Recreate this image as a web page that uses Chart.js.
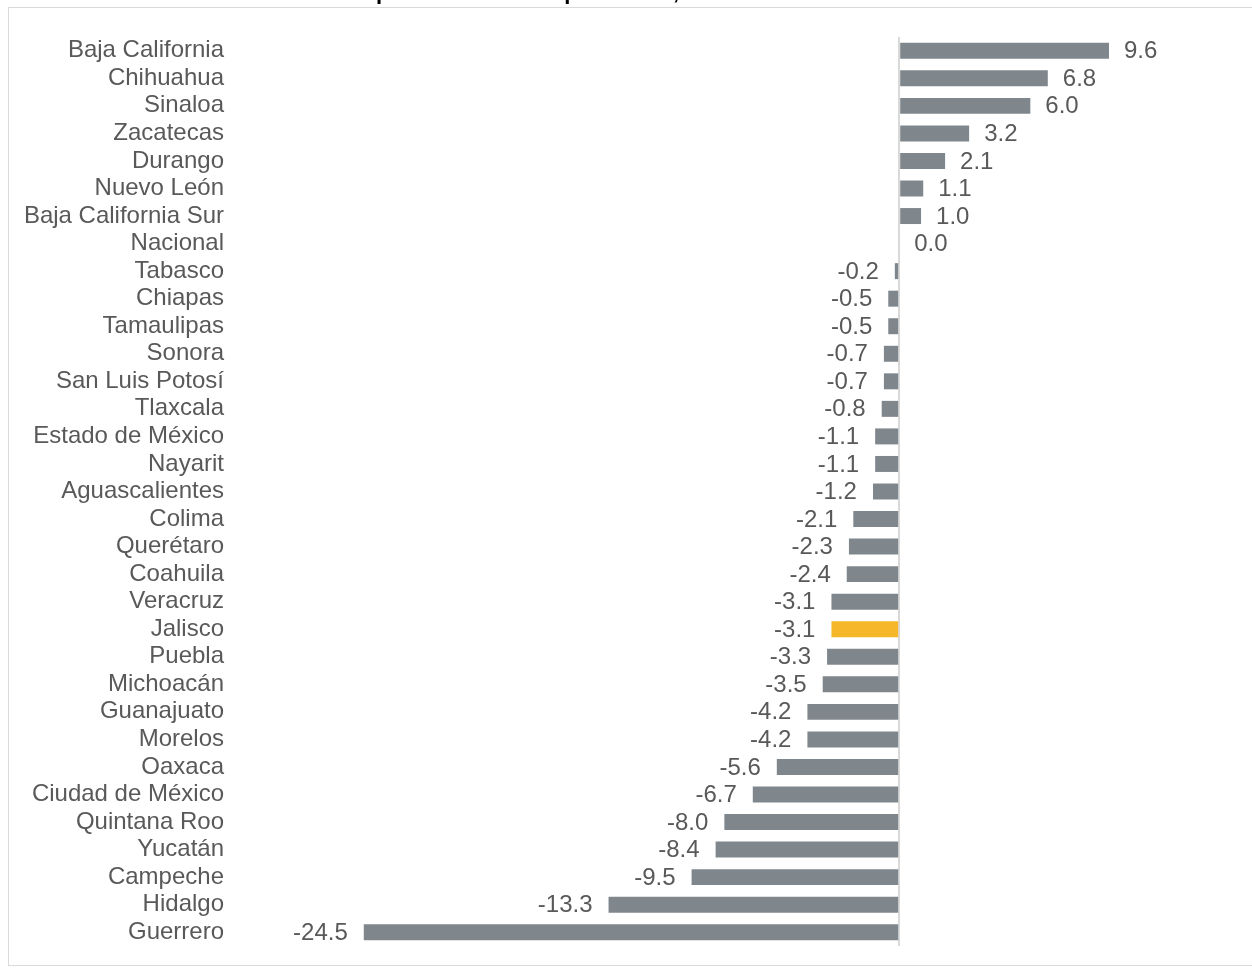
<!DOCTYPE html>
<html>
<head>
<meta charset="utf-8">
<script src="https://cdn.jsdelivr.net/npm/chart.js@4"></script>
<style>
  html, body { margin: 0; padding: 0; background: #fff; }
  #wrap { width: 1252px; height: 969px; }
</style>
</head>
<body>
<div id="wrap"><canvas id="chartEstados"></canvas></div>
<script>
// Datos
const estados = ['Baja California', 'Chihuahua', 'Sinaloa', 'Zacatecas', 'Durango', 'Nuevo León',
  'Baja California Sur', 'Nacional', 'Tabasco', 'Chiapas', 'Tamaulipas', 'Sonora', 'San Luis Potosí',
  'Tlaxcala', 'Estado de México', 'Nayarit', 'Aguascalientes', 'Colima', 'Querétaro', 'Coahuila',
  'Veracruz', 'Jalisco', 'Puebla', 'Michoacán', 'Guanajuato', 'Morelos', 'Oaxaca', 'Ciudad de México',
  'Quintana Roo', 'Yucatán', 'Campeche', 'Hidalgo', 'Guerrero'];
const valores = [9.6, 6.8, 6.0, 3.2, 2.1, 1.1, 1.0, 0.0, -0.2, -0.5, -0.5, -0.7, -0.7, -0.8, -1.1, -1.1,
  -1.2, -2.1, -2.3, -2.4, -3.1, -3.1, -3.3, -3.5, -4.2, -4.2, -5.6, -6.7, -8.0, -8.4, -9.5, -13.3, -24.5];
const destacado = 'Jalisco';
const titulo = 'porcentual del empleo anual, enero-marzo';

const gris = '#7f878c';
const amarillo = '#f6b72a';
const texto = '#595959';
const fuente = "'Liberation Sans', Arial, sans-serif";

// Marco y título recortado
const marco = {
  id: 'marco',
  beforeDraw(chart) {
    const c = chart.ctx;
    c.save();
    c.strokeStyle = '#d9d9d9';
    c.lineWidth = 1;
    c.strokeRect(8.5, 7.5, 1260, 958);
    c.fillStyle = '#000';
    c.font = 'bold 22px ' + fuente;
    c.textAlign = 'left';
    c.textBaseline = 'alphabetic';
    c.fillText(titulo, 376, -1);
    c.restore();
  }
};

// Etiquetas de valor
const etiquetas = {
  id: 'etiquetas',
  afterDatasetsDraw(chart) {
    const c = chart.ctx;
    const meta = chart.getDatasetMeta(0);
    c.save();
    c.font = '24px ' + fuente;
    c.fillStyle = texto;
    c.textBaseline = 'middle';
    meta.data.forEach((bar, i) => {
      const v = valores[i];
      const txt = v.toFixed(1);
      if (v >= 0) {
        c.textAlign = 'left';
        c.fillText(txt, bar.x + 15, bar.y + 1);
      } else {
        c.textAlign = 'right';
        c.fillText(txt, bar.x - 16, bar.y + 1);
      }
    });
    c.restore();
  }
};

new Chart(document.getElementById('chartEstados'), {
  type: 'bar',
  data: {
    labels: estados,
    datasets: [{
      data: valores,
      backgroundColor: estados.map(e => e === destacado ? amarillo : gris),
      borderWidth: 0,
      categoryPercentage: 1,
      barPercentage: 0.58
    }]
  },
  options: {
    indexAxis: 'y',
    responsive: true,
    maintainAspectRatio: false,
    animation: false,
    layout: { padding: { top: 37, bottom: 23, left: 0, right: 25 } },
    plugins: {
      legend: { display: false },
      tooltip: { enabled: false }
    },
    scales: {
      x: {
        min: -26,
        max: 15,
        afterBuildTicks(axis) { axis.ticks = [{ value: 0 }]; },
        ticks: { display: false },
        border: { display: false },
        grid: {
          color: '#d9d9d9',
          lineWidth: 2,
          drawTicks: false
        }
      },
      y: {
        afterFit(axis) {
          axis.width = 331;
          axis.paddingTop = 0;
          axis.paddingBottom = 0;
        },
        grid: { display: false, drawTicks: false },
        border: { display: false },
        ticks: {
          padding: 107,
          color: texto,
          font: { family: fuente, size: 24 },
          autoSkip: false
        }
      }
    }
  },
  plugins: [marco, etiquetas]
});
</script>
</body>
</html>
